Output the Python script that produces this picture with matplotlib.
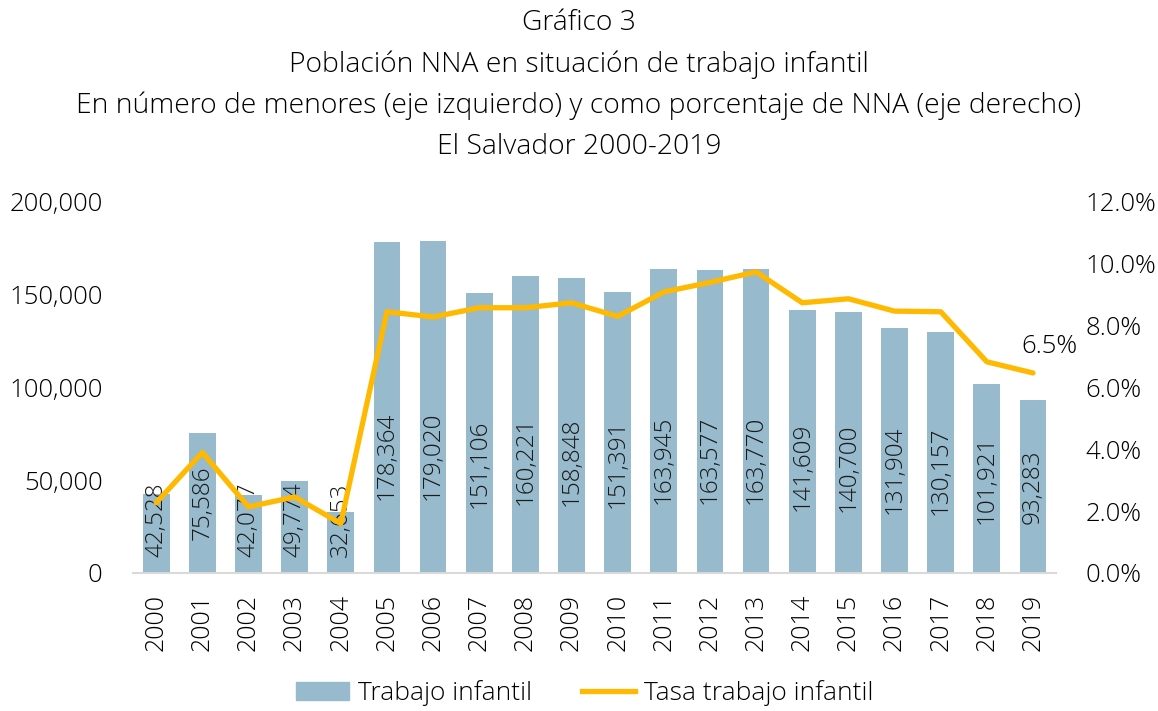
import matplotlib.pyplot as plt
import matplotlib.ticker as mticker
from matplotlib.patches import Patch
from matplotlib.lines import Line2D
import numpy as np

plt.rcParams['font.family'] = ['Open Sans', 'DejaVu Sans']
plt.rcParams['font.weight'] = 'light'

# data
years = [str(y) for y in range(2000, 2020)]
trabajo = [42528, 75586, 42077, 49774, 32653, 178364, 179020, 151106, 160221, 158848,
           151391, 163945, 163577, 163770, 141609, 140700, 131904, 130157, 101921, 93283]
tasa = [2.27, 3.90, 2.14, 2.46, 1.60, 8.45, 8.28, 8.58, 8.58, 8.74,
        8.30, 9.09, 9.40, 9.74, 8.74, 8.87, 8.47, 8.45, 6.83, 6.47]

bar_color = '#97BACC'
line_color = '#FFB900'
fs = 18.5

fig = plt.figure(figsize=(11.58, 7.11), dpi=100)
ax = fig.add_axes([0.1149, 0.1941, 0.7971, 0.5218])
x = np.arange(len(years))

ax.bar(x, trabajo, width=0.58, color=bar_color, zorder=2)
ax.set_xlim(-0.5, len(years) - 0.5)
ax.set_ylim(0, 200000)
ax.yaxis.set_major_locator(mticker.MultipleLocator(50000))
ax.yaxis.set_major_formatter(mticker.FuncFormatter(lambda v, p: f"{int(v):,}"))
ax.set_xticks(x)
ax.set_xticklabels(years, rotation=90, fontsize=18)
ax.tick_params(axis='y', length=0, labelsize=fs, pad=22)
ax.tick_params(axis='x', length=0, pad=15)
for s in ['top', 'left', 'right']:
    ax.spines[s].set_visible(False)
ax.spines['bottom'].set_color('#D9D9D9')
ax.spines['bottom'].set_linewidth(1.5)

# bar value labels (placed inside the bars, like the Excel original)
for xi, v in zip(x, trabajo):
    yc = max(28700, min(v / 2, 33000 + 0.17 * v))
    ax.text(xi, yc, f"{v:,}", rotation=90, ha='center', va='center',
            fontsize=17.5, color='#1a1a1a', zorder=5)

ax2 = ax.twinx()
ax2.plot(x, tasa, color=line_color, lw=3.8, zorder=4, solid_capstyle='round')
ax2.set_ylim(0, 12)
ax2.yaxis.set_major_locator(mticker.MultipleLocator(2))
ax2.yaxis.set_major_formatter(mticker.FuncFormatter(lambda v, p: f"{v:.1f}%"))
ax2.tick_params(axis='y', length=0, labelsize=fs, pad=21)
for s in ['top', 'left', 'right', 'bottom']:
    ax2.spines[s].set_visible(False)
ax2.annotate(f"{tasa[-1]:.1f}%", (x[-1], tasa[-1]), xytext=(12, 19),
             textcoords='offset points', ha='center', va='center', fontsize=fs)

titles = ["Gráfico 3",
          "Población NNA en situación de trabajo infantil",
          "En número de menores (eje izquierdo) y como porcentaje de NNA (eje derecho)",
          "El Salvador 2000-2019"]
for i, t in enumerate(titles):
    fig.text(0.5, 1 - (23 + 41.5 * i) / 711, t, ha='center', va='center', fontsize=20.3)

handles = [Patch(color=bar_color, label='Trabajo infantil'),
           Line2D([0], [0], color=line_color, lw=3.8, label='Tasa trabajo infantil')]
fig.legend(handles=handles, loc='center', bbox_to_anchor=(0.505, 1 - 693 / 711), ncol=2,
           frameon=False, fontsize=19, handlelength=2.0, handletextpad=0.35, columnspacing=1.9)

fig.savefig('out.png', dpi=100)
